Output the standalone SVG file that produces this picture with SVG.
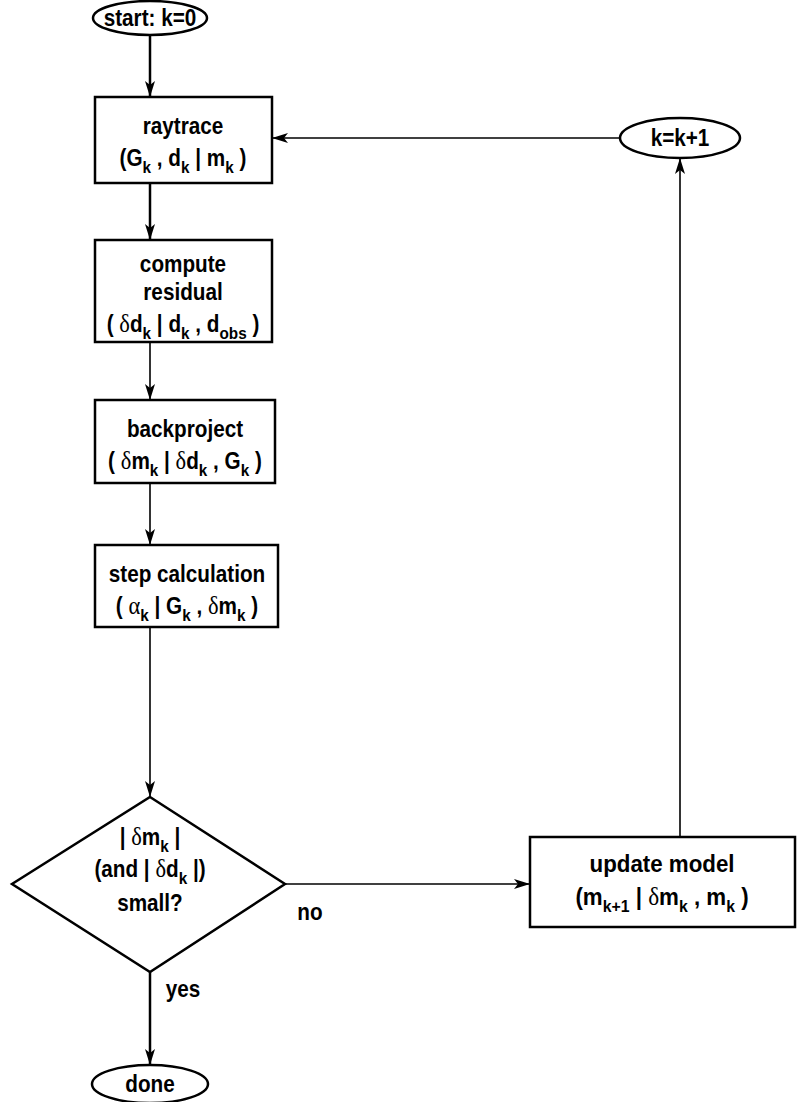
<svg xmlns="http://www.w3.org/2000/svg" width="806" height="1102" viewBox="0 0 806 1102">
<defs>
<marker id="ah" viewBox="0 0 16 10" refX="16" refY="5" markerWidth="16" markerHeight="10" markerUnits="userSpaceOnUse" orient="auto">
<path d="M0,0 L16,5 L0,10 L4,5 Z" fill="#000"/>
</marker>
<style>
.shape{fill:#fff;stroke:#000;stroke-width:2.5}
.t{font-family:"Liberation Sans",Arial,sans-serif;font-weight:bold;font-size:23px;fill:#000;text-anchor:middle}
.s{font-size:17px}
.g{font-family:"Liberation Serif","Times New Roman",serif;font-weight:normal;font-size:25px}
.thick{fill:none;stroke:#000;stroke-width:2.5}
.thin{fill:none;stroke:#000;stroke-width:1.6}
</style>
</defs>
<g id="connectors">
<line class="thick" x1="150" y1="36" x2="150" y2="97" marker-end="url(#ah)"/>
<line class="thick" x1="150" y1="183" x2="150" y2="240" marker-end="url(#ah)"/>
<line class="thin" x1="150" y1="342" x2="150" y2="400" marker-end="url(#ah)"/>
<line class="thin" x1="150" y1="483" x2="150" y2="545" marker-end="url(#ah)"/>
<line class="thin" x1="150" y1="627" x2="150" y2="797" marker-end="url(#ah)"/>
<line class="thin" x1="285" y1="884" x2="530" y2="884" marker-end="url(#ah)"/>
<line class="thin" x1="680" y1="837" x2="680" y2="158" marker-end="url(#ah)"/>
<line class="thin" x1="620" y1="138" x2="272" y2="138" marker-end="url(#ah)"/>
<line class="thick" x1="150" y1="972" x2="150" y2="1065" marker-end="url(#ah)"/>
<text class="t" x="310" y="920" transform="translate(31,0) scale(0.9,1)">no</text>
<text class="t" x="183" y="997" transform="translate(18.3,0) scale(0.9,1)">yes</text>
</g>
<g id="start">
<ellipse class="shape" cx="150" cy="18" rx="57" ry="17"/>
<text class="t" x="150" y="26" transform="translate(15,0) scale(0.9,1)">start: k=0</text>
</g>
<g id="raytrace">
<rect class="shape" x="95" y="97" width="177" height="86"/>
<text class="t" x="183" y="134" transform="translate(18.3,0) scale(0.9,1)">raytrace</text>
<text class="t" x="183" y="166" transform="translate(18.3,0) scale(0.9,1)">(G<tspan class="s" dy="7">k</tspan><tspan dy="-7"> , d</tspan><tspan class="s" dy="7">k</tspan><tspan dy="-7"> | m</tspan><tspan class="s" dy="7">k</tspan><tspan dy="-7"> )</tspan></text>
</g>
<g id="kinc">
<ellipse class="shape" cx="680" cy="138" rx="60" ry="20"/>
<text class="t" x="680" y="146" transform="translate(68,0) scale(0.9,1)">k=k+1</text>
</g>
<g id="residual">
<rect class="shape" x="95" y="240" width="177" height="102"/>
<text class="t" x="183" y="272" transform="translate(18.3,0) scale(0.9,1)">compute</text>
<text class="t" x="183" y="300" transform="translate(18.3,0) scale(0.9,1)">residual</text>
<text class="t" x="183" y="332" transform="translate(18.3,0) scale(0.9,1)">( <tspan class="g">δ</tspan>d<tspan class="s" dy="7">k</tspan><tspan dy="-7"> | d</tspan><tspan class="s" dy="7">k</tspan><tspan dy="-7"> , d</tspan><tspan class="s" dy="7">obs</tspan><tspan dy="-7"> )</tspan></text>
</g>
<g id="backproject">
<rect class="shape" x="95" y="400" width="180" height="83"/>
<text class="t" x="185" y="437" transform="translate(18.5,0) scale(0.9,1)">backproject</text>
<text class="t" x="185" y="469" transform="translate(18.5,0) scale(0.9,1)">( <tspan class="g">δ</tspan>m<tspan class="s" dy="7">k</tspan><tspan dy="-7"> | </tspan><tspan class="g">δ</tspan>d<tspan class="s" dy="7">k</tspan><tspan dy="-7"> , G</tspan><tspan class="s" dy="7">k</tspan><tspan dy="-7"> )</tspan></text>
</g>
<g id="step">
<rect class="shape" x="95" y="545" width="183" height="82"/>
<text class="t" x="187" y="582" transform="translate(18.7,0) scale(0.9,1)">step calculation</text>
<text class="t" x="187" y="614" transform="translate(18.7,0) scale(0.9,1)">( <tspan class="g">α</tspan><tspan class="s" dy="7">k</tspan><tspan dy="-7"> | G</tspan><tspan class="s" dy="7">k</tspan><tspan dy="-7"> , </tspan><tspan class="g">δ</tspan>m<tspan class="s" dy="7">k</tspan><tspan dy="-7"> )</tspan></text>
</g>
<g id="decision">
<polygon class="shape" points="150,797 285,884 150,972 12,884"/>
<text class="t" x="150" y="845" transform="translate(15,0) scale(0.9,1)">| <tspan class="g">δ</tspan>m<tspan class="s" dy="7">k</tspan><tspan dy="-7"> |</tspan></text>
<text class="t" x="150" y="877" transform="translate(15,0) scale(0.9,1)">(and | <tspan class="g">δ</tspan>d<tspan class="s" dy="7">k</tspan><tspan dy="-7"> |)</tspan></text>
<text class="t" x="150" y="911" transform="translate(15,0) scale(0.9,1)">small?</text>
</g>
<g id="update">
<rect class="shape" x="530" y="837" width="265" height="90"/>
<text class="t" x="662" y="872" transform="translate(46.34,0) scale(0.93,1)" style="font-size:24px">update model</text>
<text class="t" x="662" y="905" transform="translate(46.34,0) scale(0.93,1)" style="font-size:24px">(m<tspan class="s" dy="7">k+1</tspan><tspan dy="-7"> | </tspan><tspan class="g">δ</tspan>m<tspan class="s" dy="7">k</tspan><tspan dy="-7"> , m</tspan><tspan class="s" dy="7">k</tspan><tspan dy="-7"> )</tspan></text>
</g>
<g id="done">
<ellipse class="shape" cx="150" cy="1084" rx="58" ry="19"/>
<text class="t" x="150" y="1092" transform="translate(15,0) scale(0.9,1)">done</text>
</g>
</svg>
